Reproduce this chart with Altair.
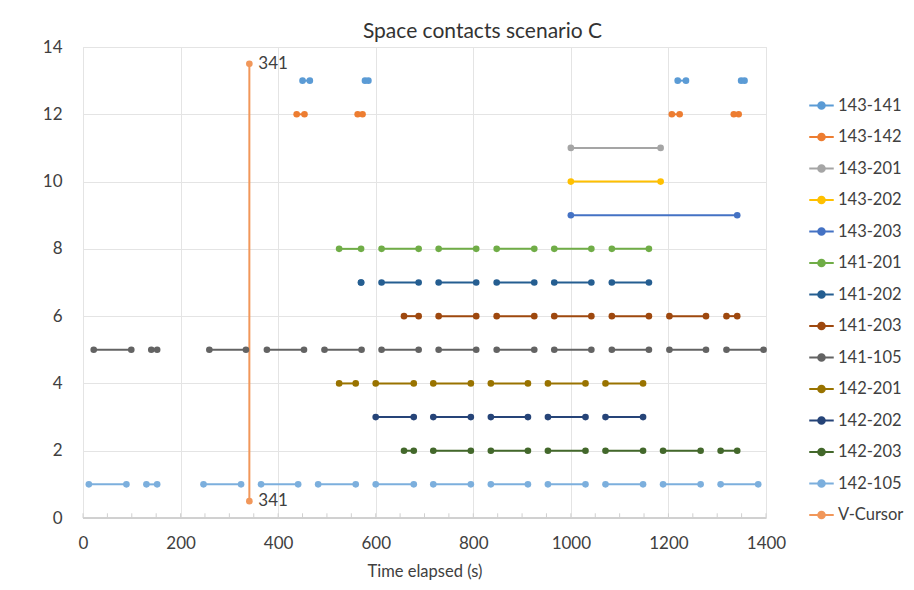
import altair as alt
import pandas as pd

# ---- data ----
series_names = ["143-141", "143-142", "143-201", "143-202", "143-203",
                "141-201", "141-202", "141-203", "141-105",
                "142-201", "142-202", "142-203", "142-105"]
series_levels = [13, 12, 11, 10, 9, 8, 7, 6, 5, 4, 3, 2, 1]

seg_143_141 = [(450, 465), (578, 585), (1219, 1236), (1349, 1356)]
seg_143_142 = [(438, 454), (563, 573), (1207, 1223), (1334, 1344)]
seg_143_201 = [(1000, 1184)]
seg_143_202 = [(1000, 1184)]
seg_143_203 = [(1000, 1341)]
seg_141_201 = [(525, 570), (612, 688), (729, 806), (848, 925), (966, 1042), (1084, 1160)]
seg_141_202 = [(570, 570), (612, 688), (729, 806), (848, 925), (966, 1042), (1084, 1160)]
seg_141_203 = [(658, 688), (729, 806), (848, 925), (966, 1042), (1084, 1160), (1202, 1277), (1319, 1341)]
seg_141_105 = [(22, 99), (140, 152), (259, 334), (377, 453), (495, 571), (612, 688), (729, 806),
               (848, 925), (966, 1042), (1084, 1160), (1202, 1277), (1319, 1395)]
seg_142_201 = [(525, 559), (600, 678), (718, 795), (836, 912), (953, 1030), (1071, 1148)]
seg_142_202 = [(600, 678), (718, 795), (836, 912), (953, 1030), (1071, 1148)]
seg_142_203 = [(658, 678), (718, 795), (836, 912), (953, 1030), (1071, 1148), (1189, 1266), (1307, 1341)]
seg_142_105 = [(12, 89), (130, 152), (247, 324), (365, 441), (482, 559), (600, 678), (718, 795),
               (836, 912), (953, 1030), (1071, 1148), (1189, 1266), (1307, 1384)]

all_segments = [seg_143_141, seg_143_142, seg_143_201, seg_143_202, seg_143_203,
                seg_141_201, seg_141_202, seg_141_203, seg_141_105,
                seg_142_201, seg_142_202, seg_142_203, seg_142_105]

cursor_name = "V-Cursor"
cursor_x = [341, 341]
cursor_y = [0.5, 13.5]

series_colors = ["#5B9BD5", "#ED7D31", "#A5A5A5", "#FFC000", "#4472C4",
                 "#70AD47", "#255E91", "#9E480E", "#636363",
                 "#997300", "#264478", "#43682B", "#7CAFDD"]
cursor_color = "#F1975A"

x_ticks = [0, 200, 400, 600, 800, 1000, 1200, 1400]
x_minor = [0, 50, 100, 150, 200, 250, 300, 350, 400, 450, 500, 550, 600, 650, 700,
           750, 800, 850, 900, 950, 1000, 1050, 1100, 1150, 1200, 1250, 1300, 1350, 1400]
y_ticks = [0, 2, 4, 6, 8, 10, 12, 14]

# ---- build table ----
rows = []
for name, lvl, segs in zip(series_names, series_levels, all_segments):
    for i, (a, b) in enumerate(segs):
        rows.append({"series": name, "seg": f"{name}_{i}", "x": a, "y": lvl})
        rows.append({"series": name, "seg": f"{name}_{i}", "x": b, "y": lvl})
for xv, yv in zip(cursor_x, cursor_y):
    rows.append({"series": cursor_name, "seg": "cursor", "x": xv, "y": yv})
df = pd.DataFrame(rows)
cur_df = pd.DataFrame({"x": cursor_x, "y": cursor_y, "label": [str(v) for v in cursor_x]})
minor_df = pd.DataFrame({"t": x_minor})

domain_names = series_names + [cursor_name]
domain_colors = series_colors + [cursor_color]

FONT = "Lato"
TXT = "#404040"

sym = "M-1,0H1M0.27,0A0.27,0.27 0 1 1 -0.27,0A0.27,0.27 0 1 1 0.27,0Z"

xs = alt.Scale(domain=[0, 1400], nice=False, zero=False)
ys = alt.Scale(domain=[0, 14], nice=False)

x_enc = alt.X("x:Q", scale=xs, axis=alt.Axis(values=x_ticks, title="Time elapsed (s)", format="d",
                                             grid=True, ticks=False, domain=False, labelFlush=False,
                                             labelFontSize=17, labelColor=TXT, labelFont=FONT,
                                             labelPadding=17, titleFontSize=16.5,
                                             titleFont=FONT, titleColor=TXT, titleFontWeight="normal",
                                             titlePadding=12, gridColor="#E4E4E4"))
y_enc = alt.Y("y:Q", scale=ys, axis=alt.Axis(values=y_ticks, title=None, grid=True, ticks=False,
                                             domain=False, labelFontSize=17, labelColor=TXT,
                                             labelFont=FONT, labelPadding=21, gridColor="#E4E4E4",
                                             labelFlush=False))

stroke_scale = alt.Scale(domain=domain_names, range=domain_colors)

legend = alt.Legend(title=None, orient="none", legendX=725, legendY=45,
                    symbolType=sym, symbolSize=600, symbolStrokeWidth=2,
                    labelFontSize=16.5, labelFont=FONT, labelColor=TXT,
                    labelOffset=3, rowPadding=9.5, symbolOpacity=1)

lines = alt.Chart(df).mark_line(strokeWidth=2).encode(
    x=x_enc, y=y_enc,
    stroke=alt.Stroke("series:N", scale=stroke_scale, legend=legend, sort=domain_names),
    detail="seg:N",
)
points = alt.Chart(df).mark_point(filled=True, size=44, opacity=1, strokeWidth=0).encode(
    x="x:Q", y="y:Q",
    fill=alt.Fill("series:N", scale=stroke_scale, legend=legend, sort=domain_names),
)
labels = alt.Chart(cur_df).mark_text(align="left", baseline="middle", dx=9, fontSize=17,
                                     font=FONT, color=TXT).encode(
    x="x:Q", y="y:Q", text="label:N")

axis_line = alt.Chart(minor_df).mark_rule(color="#D0D0D0", strokeWidth=1).encode(
    x=alt.datum(0), x2=alt.datum(1400), y=alt.datum(0))
minor_ticks = alt.Chart(minor_df).mark_rule(color="#D0D0D0", strokeWidth=1).encode(
    x="t:Q", y=alt.datum(0), y2=alt.datum(0.14))

chart = alt.layer(axis_line, minor_ticks, lines, points, labels).properties(
    width=683, height=471,
    title=alt.TitleParams("Space contacts scenario C", fontSize=21, font=FONT, color="#333333",
                          fontWeight="normal", anchor="middle", dx=58, offset=-4),
    autosize=alt.AutoSizeParams(type="none"),
    padding={"left": 75, "top": 39, "right": 140, "bottom": 62},
).configure_view(stroke=None).configure(background="white")

chart.save("out.html", embed_options={"renderer": "svg", "actions": False})
